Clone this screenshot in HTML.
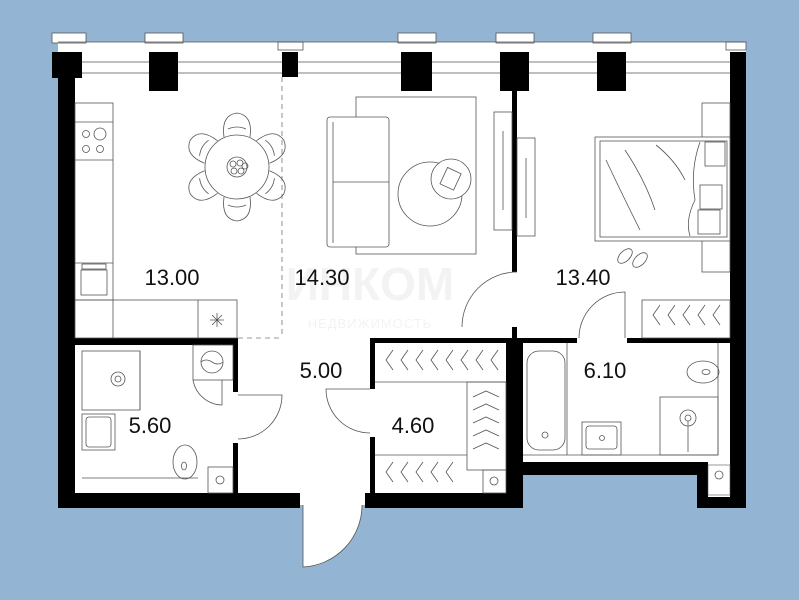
<!DOCTYPE html>
<html><head><meta charset="utf-8"><style>
html,body{margin:0;padding:0;background:#93b4d2;}
svg{display:block}
text{font-family:"Liberation Sans",sans-serif;}
</style></head><body>
<svg width="799" height="600" viewBox="0 0 799 600" xmlns="http://www.w3.org/2000/svg">
<rect width="799" height="600" fill="#93b4d2"/>
<path d="M58 42 H746 V508 H697 V475 H523 V508 H365 V505 H300 V508 H58 Z" fill="#fff"/>
<g fill="#fff" stroke="#555" stroke-width="0.8">
<rect x="52" y="33" width="34" height="10"/><rect x="145" y="33" width="38" height="10"/>
<rect x="278" y="42" width="25" height="8"/><rect x="398" y="33" width="38" height="10"/>
<rect x="496" y="33" width="38" height="10"/><rect x="593" y="33" width="38" height="10"/>
<rect x="726" y="42" width="20" height="8"/>
</g>
<g stroke="#555" stroke-width="0.8"><line x1="58" y1="62" x2="746" y2="62"/><line x1="58" y1="73" x2="746" y2="73"/><line x1="58" y1="42" x2="746" y2="42"/></g>
<g fill="#000">
<rect x="52" y="52" width="30" height="26"/><rect x="58" y="52" width="17" height="456"/>
<rect x="149" y="52" width="29" height="39"/><rect x="282" y="52" width="16" height="25"/>
<rect x="401" y="52" width="31" height="39"/><rect x="500" y="52" width="29" height="39"/>
<rect x="597" y="52" width="29" height="39"/><rect x="730" y="52" width="16" height="456"/>
<rect x="512" y="91" width="5" height="181"/><rect x="512" y="327" width="5" height="16"/>
<rect x="58" y="493" width="242" height="15"/><rect x="365" y="493" width="158" height="15"/>
<rect x="75" y="338" width="163" height="7"/><rect x="233" y="338" width="5" height="54"/><rect x="233" y="443" width="5" height="50"/>
<rect x="370" y="338" width="147" height="5"/><rect x="370" y="338" width="5" height="51"/><rect x="370" y="437" width="5" height="56"/>
<rect x="506" y="338" width="17" height="170"/>
<rect x="517" y="338" width="60" height="5"/><rect x="627" y="338" width="103" height="5"/>
<rect x="523" y="462" width="185" height="13"/><rect x="697" y="462" width="11" height="46"/>
<rect x="697" y="497" width="49" height="11"/>
</g>
<rect x="708" y="465" width="22" height="30" fill="#fff" stroke="#555" stroke-width="0.6"/>
<circle cx="719" cy="475" r="4" fill="none" stroke="#555" stroke-width="0.8"/>
<path d="M303 505 V567 A62 62 0 0 0 362 505" fill="#fff" stroke="#555" stroke-width="0.8"/>
<g fill="none" stroke="#555" stroke-width="0.8">
<path d="M238 395 H282 A44 44 0 0 1 238 439"/>
<path d="M370 389 H326 A44 44 0 0 0 370 433"/>
<path d="M517 272 A55 55 0 0 0 462 327"/>
<path d="M625 338 V292 A46 46 0 0 0 579 338"/>
<path d="M193 380 A30 30 0 0 0 222 405 V380"/>
</g>
<g stroke="#777" stroke-width="0.8" stroke-dasharray="5,4" fill="none">
<line x1="282" y1="77" x2="282" y2="338"/><line x1="238" y1="338" x2="282" y2="338"/>
</g>
<g fill="none" stroke="#555" stroke-width="0.8">
<rect x="75" y="103" width="38" height="197"/><line x1="75" y1="122" x2="113" y2="122"/><line x1="75" y1="160" x2="113" y2="160"/>
<circle cx="86" cy="134" r="3.5"/><circle cx="100" cy="134" r="6"/><circle cx="86" cy="149" r="3.5"/><circle cx="100" cy="149" r="3.5"/>
<line x1="75" y1="263" x2="113" y2="263"/><rect x="81" y="270" width="26" height="25"/><rect x="82" y="264" width="24" height="5"/>
<rect x="75" y="300" width="162" height="38"/><line x1="113" y1="300" x2="113" y2="338"/><line x1="198" y1="300" x2="198" y2="338"/>
<path d="M210 320 h14 M217 313 v14 M212 315 l10 10 M222 315 l-10 10"/>
<g transform="translate(237 167)">
<path id="ch" d="M-13 -30 Q-16 -52 0 -54 Q16 -52 13 -30 M-9 -38 Q0 -42 9 -38"/>
<use href="#ch" transform="rotate(60)"/><use href="#ch" transform="rotate(120)"/><use href="#ch" transform="rotate(180)"/><use href="#ch" transform="rotate(240)"/><use href="#ch" transform="rotate(300)"/>
</g>
<circle cx="237" cy="167" r="32" fill="#fff"/><circle cx="237" cy="167" r="10"/>
<circle cx="233" cy="164" r="3"/><circle cx="240" cy="163" r="3"/><circle cx="234" cy="171" r="3"/><circle cx="241" cy="171" r="3"/><circle cx="245" cy="166" r="3"/>
<rect x="356" y="97" width="120" height="157"/>
<rect x="327" y="117" width="62" height="130" rx="3" fill="#fff"/><line x1="333" y1="122" x2="333" y2="243"/><line x1="333" y1="182" x2="389" y2="182"/>
<circle cx="430" cy="194" r="32" fill="#fff"/><circle cx="451" cy="179" r="20" fill="#fff"/><rect x="443" y="170" width="15" height="18" transform="rotate(25 451 179)"/>
<rect x="494" y="112" width="18" height="118"/><line x1="503" y1="131" x2="503" y2="210"/>
<rect x="517" y="138" width="18" height="98"/><line x1="526" y1="158" x2="526" y2="218"/>
<rect x="702" y="103" width="28" height="169"/>
<rect x="595" y="137" width="135" height="104" fill="#fff"/><rect x="600" y="141" width="127" height="96"/>
<path d="M700 142 Q690 170 695 200 Q685 220 690 236"/>
<path d="M606 160 Q620 190 640 230 M625 150 Q645 180 655 210 M656 145 Q675 160 685 180"/>
<rect x="705" y="142" width="20" height="24"/><rect x="700" y="185" width="22" height="24"/><rect x="698" y="210" width="22" height="24"/>
<ellipse cx="625" cy="256" rx="5" ry="9" transform="rotate(45 625 256)"/><ellipse cx="640" cy="260" rx="5" ry="9" transform="rotate(45 640 260)"/>
<rect x="642" y="300" width="88" height="38"/>
<rect x="82" y="351" width="58" height="59"/><circle cx="118" cy="379" r="7"/><circle cx="118" cy="379" r="3"/>
<rect x="82" y="414" width="33" height="36"/><rect x="86" y="417" width="25" height="30" rx="3"/>
<line x1="82" y1="478" x2="198" y2="478"/><line x1="140" y1="410" x2="140" y2="351"/>
<ellipse cx="185" cy="462" rx="12" ry="17"/><ellipse cx="184" cy="466" rx="2.5" ry="4"/>
<rect x="193" y="345" width="40" height="35"/><circle cx="212" cy="362" r="11"/><path d="M201 362 q5 -4 11 0 t11 0"/>
<rect x="208" y="467" width="25" height="26"/><circle cx="220" cy="480" r="4"/>
<line x1="375" y1="382" x2="506" y2="382"/><line x1="375" y1="455" x2="467" y2="455"/>
<rect x="467" y="382" width="39" height="88"/><rect x="483" y="470" width="23" height="23"/><circle cx="494" cy="481" r="4"/>
<line x1="523" y1="455" x2="718" y2="455"/><line x1="718" y1="343" x2="718" y2="455"/>
<rect x="527" y="351" width="38" height="99" rx="12"/><line x1="567" y1="343" x2="567" y2="455"/><circle cx="545" cy="435" r="3"/>
<rect x="582" y="422" width="39" height="33"/><rect x="586" y="426" width="31" height="23" rx="3"/><circle cx="602" cy="438" r="2.5"/>
<ellipse cx="703" cy="372" rx="16" ry="11"/><ellipse cx="706" cy="372" rx="4" ry="2.5"/>
<rect x="660" y="397" width="58" height="58"/><circle cx="688" cy="418" r="8"/><circle cx="688" cy="418" r="3"/><line x1="688" y1="421" x2="688" y2="452"/>
</g>
<g fill="none" stroke="#555" stroke-width="0.8">
<g id="hg"><path d="M0 0 l-7 10 l7 10"/></g>
<use href="#hg" x="393" y="350"/><use href="#hg" x="408" y="350"/><use href="#hg" x="423" y="350"/><use href="#hg" x="438" y="350"/><use href="#hg" x="453" y="350"/><use href="#hg" x="468" y="350"/><use href="#hg" x="483" y="350"/><use href="#hg" x="498" y="350"/>
<use href="#hg" x="393" y="462"/><use href="#hg" x="408" y="462"/><use href="#hg" x="423" y="462"/><use href="#hg" x="438" y="462"/><use href="#hg" x="453" y="462"/>
<use href="#hg" x="660" y="305"/><use href="#hg" x="675" y="305"/><use href="#hg" x="690" y="305"/><use href="#hg" x="705" y="305"/><use href="#hg" x="720" y="305"/>
<path d="M473 397 l13 -6 l13 6 M473 410 l13 -6 l13 6 M473 423 l13 -6 l13 6 M473 436 l13 -6 l13 6 M473 449 l13 -6 l13 6"/>
</g>
<text x="370" y="300" font-size="46" font-weight="bold" fill="#f3f3f3" text-anchor="middle">ИНКОМ</text>
<text x="370" y="328" font-size="13" fill="#f3f3f3" text-anchor="middle" font-family="Liberation Serif, serif" letter-spacing="1">НЕДВИЖИМОСТЬ</text>
<g font-size="22" fill="#111" text-anchor="middle">
<text x="172" y="285">13.00</text><text x="322" y="285">14.30</text><text x="583" y="285">13.40</text>
<text x="321" y="378">5.00</text><text x="150" y="433">5.60</text><text x="413" y="433">4.60</text><text x="605" y="378">6.10</text>
</g>
</svg>
</body></html>
